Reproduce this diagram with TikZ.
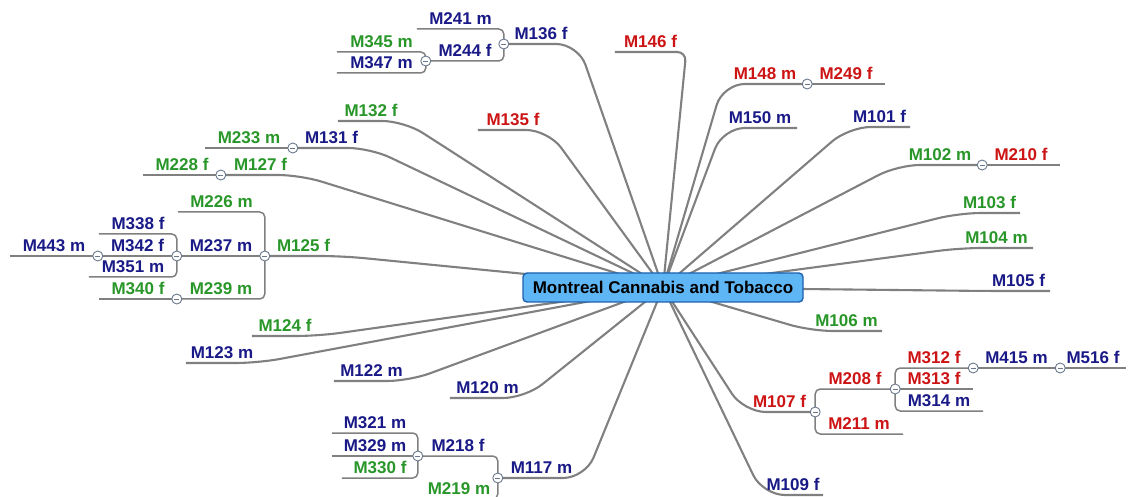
\documentclass[tikz,border=0pt]{standalone}
\usepackage{fontspec}
\setmainfont{Liberation Sans}
\usetikzlibrary{backgrounds}
\definecolor{cgreen}{RGB}{40,150,40}
\definecolor{cblue}{RGB}{25,25,135}
\definecolor{cred}{RGB}{205,20,20}
\definecolor{cline}{RGB}{128,128,128}
\definecolor{togc}{RGB}{105,120,140}
\definecolor{boxfill}{RGB}{95,182,245}
\definecolor{boxdraw}{RGB}{30,95,175}
\tikzset{
  lab/.style={font=\fontsize{17}{19}\selectfont\bfseries, anchor=south, inner xsep=0pt, inner ysep=4.5pt, text depth=0pt, text height=12pt, minimum height=0pt},
  conn/.style={draw=cline, line width=2.1pt, rounded corners=22pt},
  ul/.style={draw=cline, line width=1.5pt},
  br/.style={ul, rounded corners=5pt},
  tog/.style={circle, draw=togc, fill=white, line width=0.9pt, minimum size=10pt, inner sep=0pt,
    path picture={\draw[togc, line width=0.9pt] ([xshift=-2.6pt]path picture bounding box.center) -- ([xshift=2.6pt]path picture bounding box.center);}},
  rootbox/.style={draw=boxdraw, fill=boxfill, line width=1.4pt, rounded corners=4pt, minimum width=280pt, minimum height=29pt, inner sep=0pt, font=\fontsize{17}{20}\selectfont\bfseries, text=black}
}
\newcommand\mmlab[6]{\node[lab, text=#5, minimum width={#3pt-#2pt}] (#1) at ({(#2+#3)/2},#4) {#6};}
\begin{document}
\begin{tikzpicture}[x=1pt,y=-1pt]
\useasboundingbox (0,0) rectangle (1128,497);
\node[rootbox] (root) at (663,287.5) {Montreal Cannabis and Tobacco};
% left side
\mmlab{n136}{504}{578}{44}{cblue}{M136 f}
\mmlab{n241}{417}{504}{29}{cblue}{M241 m}
\mmlab{n244}{426}{504}{61}{cblue}{M244 f}
\mmlab{n345}{337}{426}{52}{cgreen}{M345 m}
\mmlab{n347}{337}{426}{73}{cblue}{M347 m}
\mmlab{n146}{615}{686}{52}{cred}{M146 f}
\mmlab{n132}{338}{404}{121}{cgreen}{M132 f}
\mmlab{n135}{478}{548}{130}{cred}{M135 f}
\mmlab{n131}{293}{370}{148}{cblue}{M131 f}
\mmlab{n233}{205}{293}{148}{cgreen}{M233 m}
\mmlab{n127}{221}{300}{175}{cgreen}{M127 f}
\mmlab{n228}{143}{221}{175}{cgreen}{M228 f}
\mmlab{n125}{265}{342}{256}{cgreen}{M125 f}
\mmlab{n226}{178}{265}{212}{cgreen}{M226 m}
\mmlab{n237}{177}{265}{256}{cblue}{M237 m}
\mmlab{n239}{177}{265}{299}{cgreen}{M239 m}
\mmlab{n338}{99}{177}{234}{cblue}{M338 f}
\mmlab{n342}{98}{177}{256}{cblue}{M342 f}
\mmlab{n351}{89}{177}{277}{cblue}{M351 m}
\mmlab{n443}{10}{98}{256}{cblue}{M443 m}
\mmlab{n340}{99}{177}{299}{cgreen}{M340 f}
\mmlab{n124}{252}{318}{336}{cgreen}{M124 f}
\mmlab{n123}{186}{258}{363}{cblue}{M123 m}
\mmlab{n122}{334}{409}{381}{cblue}{M122 m}
\mmlab{n120}{450}{525}{398}{cblue}{M120 m}
\mmlab{n117}{498}{585}{478}{cblue}{M117 m}
\mmlab{n218}{418}{498}{456}{cblue}{M218 f}
\mmlab{n219}{420}{498}{499}{cgreen}{M219 m}
\mmlab{n321}{332}{418}{433}{cblue}{M321 m}
\mmlab{n329}{332}{418}{456}{cblue}{M329 m}
\mmlab{n330}{342}{418}{478}{cgreen}{M330 f}
% right side
\mmlab{n148}{723}{807}{84}{cred}{M148 m}
\mmlab{n249}{807}{885}{84}{cred}{M249 f}
\mmlab{n150}{723}{797}{128}{cblue}{M150 m}
\mmlab{n101}{849}{910}{127}{cblue}{M101 f}
\mmlab{n102}{898}{982}{165}{cgreen}{M102 m}
\mmlab{n210}{982}{1060}{165}{cred}{M210 f}
\mmlab{n103}{959}{1020}{213}{cgreen}{M103 f}
\mmlab{n104}{960}{1033}{248}{cgreen}{M104 m}
\mmlab{n105}{987}{1050}{291}{cblue}{M105 f}
\mmlab{n106}{811}{882}{331}{cgreen}{M106 m}
\mmlab{n107}{744}{815}{412}{cred}{M107 f}
\mmlab{n208}{815}{895}{389}{cred}{M208 f}
\mmlab{n211}{815}{903}{434}{cred}{M211 m}
\mmlab{n312}{895}{973}{368}{cred}{M312 f}
\mmlab{n313}{895}{973}{389}{cred}{M313 f}
\mmlab{n314}{895}{983}{411}{cblue}{M314 m}
\mmlab{n415}{973}{1060}{368}{cblue}{M415 m}
\mmlab{n516}{1060}{1126}{368}{cblue}{M516 f}
\mmlab{n109}{763}{823}{495}{cblue}{M109 f}
\begin{pgfonlayer}{background}
\foreach \i in {136,132,135,131,127,125,124,123,122,120,117}
  \draw[conn] (root.center) -- (n\i.south east) -- (n\i.south west);
\draw[conn, rounded corners=9pt] (root.center) -- (n146.south east) -- (n146.south west);
\foreach \i in {148,150,101,102,103,104,105,106,107,109}
  \draw[conn] (root.center) -- (n\i.south west) -- (n\i.south east);
% left brackets
\draw[br] (n241.south west) -| (n136.south west);
\draw[br] (n244.south west) -| (n136.south west);
\draw[br] (n345.south west) -| (n244.south west);
\draw[br] (n347.south west) -| (n244.south west);
\draw[br] (n226.south west) -| (n125.south west);
\draw[ul] (n237.south west) -- (n125.south west);
\draw[br] (n239.south west) -| (n125.south west);
\draw[br] (n338.south west) -| (n237.south west);
\draw[ul] (n342.south west) -- (n237.south west);
\draw[br] (n351.south west) -| (n237.south west);
\draw[ul] (n443.south west) -- (n342.south west);
\draw[ul] (n340.south west) -- (n239.south west);
\draw[ul] (n233.south west) -- (n131.south west);
\draw[ul] (n228.south west) -- (n127.south west);
\draw[br] (n218.south west) -| (n117.south west);
\draw[br] (n219.south west) -| (n117.south west);
\draw[br] (n321.south west) -| (n218.south west);
\draw[ul] (n329.south west) -- (n218.south west);
\draw[br] (n330.south west) -| (n218.south west);
% right brackets
\draw[ul] (n148.south east) -- (n249.south east);
\draw[ul] (n102.south east) -- (n210.south east);
\draw[br] (n208.south east) -| (n107.south east);
\draw[br] (n211.south east) -| (n107.south east);
\draw[br] (n312.south east) -| (n208.south east);
\draw[ul] (n313.south east) -- (n208.south east);
\draw[br] (n314.south east) -| (n208.south east);
\draw[ul] (n312.south east) -- (n415.south east);
\draw[ul] (n415.south east) -- (n516.south east);
\end{pgfonlayer}
% toggles
\foreach \i in {136,244,131,127,125,237,239,342,117,218}
  \node[tog] (t\i) at (n\i.south west) {};
\foreach \i in {148,102,107,208,312,415}
  \node[tog] (t\i) at (n\i.south east) {};
\end{tikzpicture}
\end{document}
